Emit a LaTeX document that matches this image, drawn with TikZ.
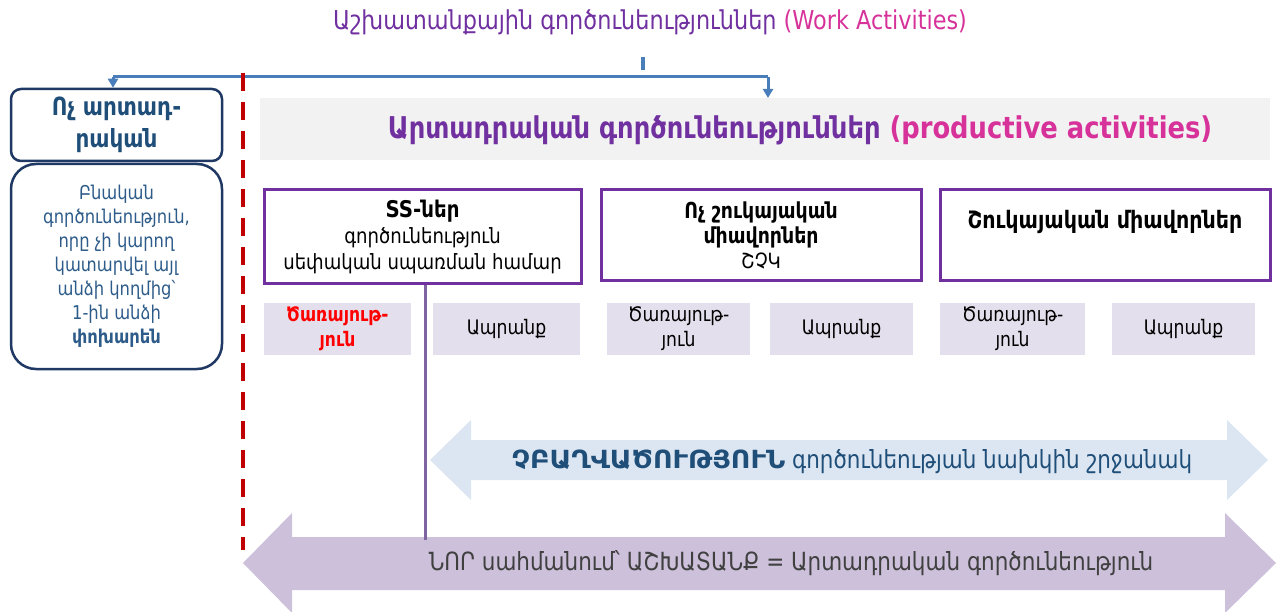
\documentclass[tikz,border=0pt]{standalone}
\usepackage{fontspec}
\setmainfont{DejaVu Sans}[FakeStretch=0.86]
\usetikzlibrary{arrows.meta}
\definecolor{purp}{HTML}{7030A0}
\definecolor{mag}{HTML}{D6329A}
\definecolor{navy}{HTML}{1F3864}
\definecolor{dblue}{HTML}{1F4E79}
\definecolor{mblue}{HTML}{2E5C8A}
\definecolor{conn}{HTML}{4A7EBB}
\definecolor{dred}{HTML}{C00000}
\definecolor{lav}{HTML}{E4DFEC}
\definecolor{lavd}{HTML}{CCC0DA}
\definecolor{lblue}{HTML}{DCE6F2}
\definecolor{band}{HTML}{F2F2F2}
\definecolor{vline}{HTML}{8064A2}
\definecolor{dgray}{HTML}{404040}
\tikzset{
  catbox/.style={draw=purp, line width=3pt, fill=white, inner sep=0pt, align=center},
  smallbox/.style={fill=lav, inner sep=0pt, minimum height=52pt, align=center, font=\fontsize{20}{25}\selectfont},
  leftbox/.style={draw=navy, line width=2.5pt, fill=white, inner sep=0pt, align=center, minimum width=211pt},
  connline/.style={draw=conn, line width=3pt},
}
\begin{document}
\begin{tikzpicture}[x=1pt,y=-1pt]
\useasboundingbox (0,0) rectangle (1276,612);
% title
\node[inner sep=0pt, font=\fontsize{26}{30}\selectfont] (title) at (650,22) {\color{purp}Աշխատանքային գործունեություններ \color{mag}(Work Activities)};
% band
\node[fill=band, minimum width=1010pt, minimum height=62pt, anchor=north west, inner sep=0pt] (band) at (260,98) {};
\node[inner sep=0pt, font=\bfseries\fontsize{30}{34}\selectfont] (bandt) at (800,130) {\color{purp}Արտադրական գործունեություններ \color{mag}(productive activities)};
% left boxes
\node[leftbox, rounded corners=10pt, minimum height=72pt, font=\bfseries\fontsize{25}{32}\selectfont, text=dblue] (nonprod) at (116.5,125) {Ոչ արտադ-\\րական};
\node[leftbox, rounded corners=25pt, minimum height=205pt, font=\fontsize{19}{24}\selectfont, text=mblue] (desc) at (116.5,266.5) {Բնական\\գործունեություն,\\որը չի կարող\\կատարվել այլ\\անձի կողմից՝\\1-ին անձի\\\textbf{փոխարեն}};
% connector
\coordinate (tick) at (643,57);
\coordinate (jl) at (113,77);
\coordinate (jr) at (768,77);
\draw[conn, line width=4pt] (tick) -- ++(0,13);
\draw[connline] (jl) -- (jr);
\draw[connline, -{Triangle[width=10pt,length=9pt]}] (jr) -- (jr |- band.north);
\draw[connline, -{Triangle[width=10pt,length=9pt]}] (jl) -- (jl |- nonprod.north);
% red dashed divider
\coordinate (rd1) at (243,73);
\coordinate (rd2) at (243,550);
\draw[dred, line width=4pt, dash pattern=on 18pt off 11pt] (rd1) -- (rd2);
% category boxes
\node[catbox, minimum width=317pt, minimum height=93pt, font=\fontsize{21}{26}\selectfont] (b1) at (422.5,236.5) {{\bfseries\fontsize{23}{26}\selectfont SS-ներ}\\գործունեություն\\սեփական սպառման համար};
\node[catbox, minimum width=320pt, minimum height=90pt, font=\fontsize{21}{25}\selectfont] (b2) at (761,235) {{\bfseries\fontsize{22}{25}\selectfont Ոչ շուկայական}\\{\bfseries\fontsize{22}{25}\selectfont միավորներ}\\ՇՉԿ};
\node[catbox, minimum width=330pt, minimum height=90pt] (b3) at (1105,235) {};
\node[inner sep=0pt, font=\bfseries\fontsize{24}{28}\selectfont] (b3t) at (1105,222) {Շուկայական միավորներ};
% small boxes
\node[smallbox, minimum width=147pt, text=red, font=\bfseries\fontsize{20}{25}\selectfont] (s1) at (337.5,329) {Ծառայութ-\\յուն};
\node[smallbox, minimum width=147pt] (a1) at (506.5,329) {Ապրանք};
\node[smallbox, minimum width=143pt] (s2) at (678.5,329) {Ծառայութ-\\յուն};
\node[smallbox, minimum width=143pt] (a2) at (841.5,329) {Ապրանք};
\node[smallbox, minimum width=145pt] (s3) at (1012.5,329) {Ծառայութ-\\յուն};
\node[smallbox, minimum width=143pt] (a3) at (1183.5,329) {Ապրանք};
% double arrows
\fill[lblue] (430,460) -- (471,420) -- (471,440) -- (1227,440) -- (1227,420) -- (1268,460) -- (1227,500) -- (1227,480) -- (471,480) -- (471,500) -- cycle;
\node[inner sep=0pt, text=dblue, font=\fontsize{25}{30}\selectfont] (unemp) at (852,462) {\textbf{\scalebox{1.25}[1]{ՉԲԱՂՎԱԾՈՒԹՅՈՒՆ}} գործունեության նախկին շրջանակ};
\fill[lavd] (243,563) -- (292,513) -- (292,537) -- (1225,537) -- (1225,513) -- (1276,563) -- (1225,613) -- (1225,590) -- (292,590) -- (292,613) -- cycle;
\node[inner sep=0pt, text=dgray, font=\fontsize{25}{30}\selectfont] (newdef) at (791,563) {ՆՈՐ սահմանում՝ ԱՇԽԱՏԱՆՔ = Արտադրական գործունեություն};
% purple vertical line
\coordinate (vend) at (425,540);
\draw[vline, line width=3pt] (b1.south -| vend) -- (vend);
\end{tikzpicture}
\end{document}
